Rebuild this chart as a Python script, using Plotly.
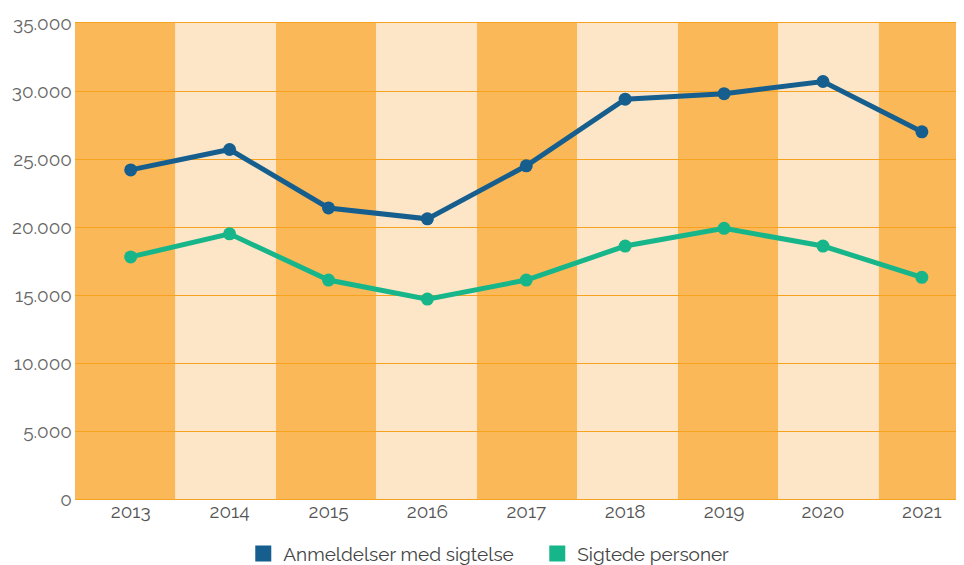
import plotly.graph_objects as go

years = [2013, 2014, 2015, 2016, 2017, 2018, 2019, 2020, 2021]
anmeldelser = [24200, 25700, 21400, 20600, 24500, 29400, 29800, 30700, 27000]
sigtede = [17800, 19500, 16100, 14700, 16100, 18600, 19900, 18600, 16300]
tick_vals_y = [0, 5000, 10000, 15000, 20000, 25000, 30000, 35000]
series_names = ["Anmeldelser med sigtelse", "Sigtede personer"]

BLUE = "#165E8E"
GREEN = "#17B68A"
DARK = "#FBB859"
LIGHT = "#FDE6C7"
GRID = "#F7A21E"
FONT = "Raleway, Lato, sans-serif"

fig = go.Figure()

x0 = 2012.437
band_w = 1.016
shapes = []
for i in range(len(years)):
    shapes.append(dict(type="rect", xref="x", yref="paper",
                       x0=x0 + i * band_w, x1=x0 + (i + 1) * band_w,
                       y0=0, y1=1, fillcolor=DARK if i % 2 == 0 else LIGHT,
                       line=dict(width=0), layer="below"))

for vals, col in [(anmeldelser, BLUE), (sigtede, GREEN)]:
    fig.add_trace(go.Scatter(x=years, y=vals, mode="lines+markers",
                             line=dict(color=col, width=5),
                             marker=dict(color=col, size=13),
                             showlegend=False, hoverinfo="skip"))

for name, col in zip(series_names, [BLUE, GREEN]):
    fig.add_trace(go.Scatter(x=[None], y=[None], mode="markers", name=name,
                             marker=dict(color=col, size=16, symbol="square")))

fig.update_layout(
    width=956, height=557,
    margin=dict(l=67, r=0, t=15, b=66, autoexpand=False),
    paper_bgcolor="white", plot_bgcolor="white",
    separators=",.",
    font=dict(family=FONT, color="#666666", size=19),
    shapes=shapes,
    legend=dict(orientation="h", x=0.52, xanchor="center", y=-0.115, yanchor="middle",
                font=dict(size=19, color="#444444"), itemsizing="trace",
                traceorder="normal", entrywidth=249, entrywidthmode="pixels"),
    xaxis=dict(range=[x0, 2021.426], tickmode="array", tickvals=years,
               ticktext=[str(y) for y in years], showgrid=False, zeroline=False,
               showline=True, mirror=True, linecolor=GRID, linewidth=1, automargin=False,
               tickfont=dict(size=19, color="#555555"), ticks="", fixedrange=True,
               ticklabelstandoff=-5),
    yaxis=dict(range=[0, 35000], tickmode="array", tickvals=tick_vals_y,
               tickformat=",d", showgrid=True, gridcolor=GRID, gridwidth=1,
               zeroline=True, zerolinecolor=GRID, zerolinewidth=1, automargin=False,
               tickfont=dict(size=19, color="#666666"), ticks="", ticklen=0,
               ticklabelstandoff=2),
)

fig.write_html("out.html")
